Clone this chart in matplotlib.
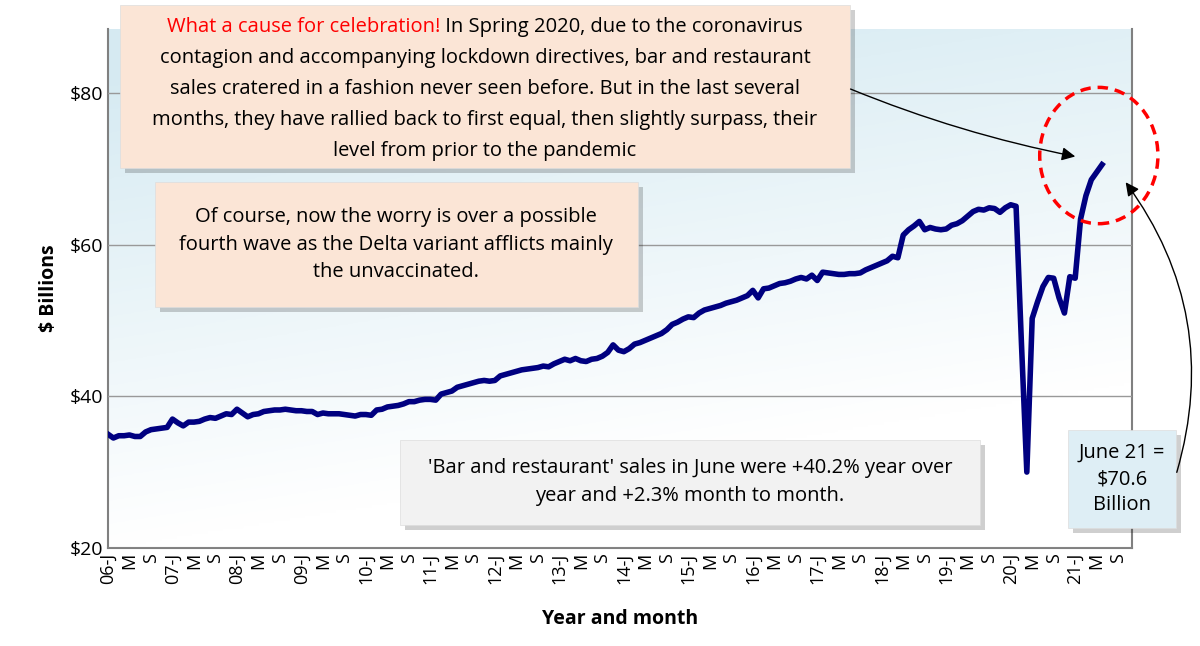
import matplotlib
matplotlib.use("Agg")
import matplotlib.pyplot as plt
import numpy as np
from matplotlib.patches import Ellipse, FancyBboxPatch

plt.rcParams["font.family"] = "Open Sans"

sales = [
 35.0, 34.5, 34.8, 34.8, 34.9, 34.7, 34.7, 35.3, 35.6, 35.7, 35.8, 35.9,
 37.0, 36.5, 36.1, 36.6, 36.6, 36.7, 37.0, 37.2, 37.1, 37.4, 37.7, 37.6,
 38.3, 37.8, 37.3, 37.6, 37.7, 38.0, 38.1, 38.2, 38.2, 38.3, 38.2, 38.1,
 38.1, 38.0, 38.0, 37.6, 37.8, 37.7, 37.7, 37.7, 37.6, 37.5, 37.4, 37.6,
 37.6, 37.5, 38.2, 38.3, 38.6, 38.7, 38.8, 39.0, 39.3, 39.3, 39.5, 39.6,
 39.6, 39.5, 40.3, 40.5, 40.7, 41.2, 41.4, 41.6, 41.8, 42.0, 42.1, 42.0,
 42.1, 42.7, 42.9, 43.1, 43.3, 43.5, 43.6, 43.7, 43.8, 44.0, 43.9, 44.3,
 44.6, 44.9, 44.7, 45.0, 44.7, 44.6, 44.9, 45.0, 45.3, 45.8, 46.8, 46.1,
 45.9, 46.3, 46.9, 47.1, 47.4, 47.7, 48.0, 48.3, 48.8, 49.5, 49.8, 50.2,
 50.5, 50.4, 51.0, 51.4, 51.6, 51.8, 52.0, 52.3, 52.5, 52.7, 53.0, 53.3,
 54.0, 53.0, 54.2, 54.3, 54.6, 54.9, 55.0, 55.2, 55.5, 55.7, 55.5, 56.0,
 55.3, 56.4, 56.3, 56.2, 56.1, 56.1, 56.2, 56.2, 56.3, 56.7, 57.0, 57.3,
 57.6, 57.9, 58.5, 58.3, 61.3, 62.0, 62.5, 63.1, 62.0, 62.3, 62.1, 62.0,
 62.1, 62.6, 62.8, 63.2, 63.8, 64.4, 64.7, 64.6, 64.9, 64.8, 64.3, 64.9,
 65.3, 65.1, 47.0, 30.0, 50.3, 52.5, 54.5, 55.7, 55.6, 53.0, 51.0, 55.8,
 55.6, 63.4, 66.5, 68.6, 69.6, 70.6,
]
start_year = 6
months = ["J", "M", "S"]
y_ticks = [20, 40, 60, 80]
y_tick_labels = ["$20", "$40", "$60", "$80"]

fig = plt.figure(figsize=(12, 6.46), dpi=100)
ax = fig.add_axes([0.09, 0.152, 0.853, 0.803])
x = np.arange(len(sales))
xmax = 190.5
ymin, ymax = 20, 88.5

# gradient background
gx, gy = np.meshgrid(np.linspace(0, 1, 200), np.linspace(1, 0, 200))
t = np.clip(gy * 1.1 - gx * 0.35, 0, 1)
c0 = np.array([0.84, 0.92, 0.95]); c1 = np.array([1, 1, 1])
img = c1 + (c0 - c1) * t[..., None]
ax.imshow(img, extent=[0, xmax, ymin, ymax], aspect="auto", zorder=0)

ax.plot(x, sales, color="#000080", lw=4, zorder=3, solid_joinstyle="round")
ax.set_xlim(0, xmax); ax.set_ylim(ymin, ymax)
ax.set_yticks(y_ticks); ax.set_yticklabels(y_tick_labels, fontsize=14)
ax.yaxis.grid(True, color="#999999", lw=1)
ax.set_axisbelow(False)
pos = list(range(0, 190, 4))
labs = []
for p in pos:
    m = months[(p % 12) // 4]
    labs.append(f"{start_year + p // 12:02d}-J" if m == "J" else m)
ax.set_xticks(pos); ax.set_xticklabels(labs, rotation=90, fontsize=13)
ax.tick_params(length=0)
for s in ["left", "bottom", "right"]:
    ax.spines[s].set_color("#808080"); ax.spines[s].set_linewidth(1.5)
ax.spines["top"].set_visible(False)
ax.set_ylabel("$ Billions", fontsize=14, fontweight="bold", labelpad=8)
ax.set_xlabel("Year and month", fontsize=14, fontweight="bold", labelpad=18)

ax.add_patch(Ellipse((184.4, 71.8), 22, 18, fill=False, ec="#FF0000", lw=2.5, ls=(0, (3, 2)), zorder=4, clip_on=False))

def box(x0, y0, x1, y1, fc):
    W, H = 1200, 646
    sh = FancyBboxPatch((x0 / W + 0.004, 1 - y1 / H - 0.007), (x1 - x0) / W, (y1 - y0) / H,
                        boxstyle="square,pad=0", transform=fig.transFigure, fc="#00000030", ec="none", zorder=5)
    b = FancyBboxPatch((x0 / W, 1 - y1 / H), (x1 - x0) / W, (y1 - y0) / H,
                       boxstyle="square,pad=0", transform=fig.transFigure, fc=fc, ec="#dddddd", lw=0.5, zorder=6)
    fig.patches.extend([sh, b])

box(120, 5, 850, 168, "#FBE5D6")
box(155, 182, 638, 307, "#FBE5D6")
box(400, 440, 980, 525, "#F2F2F2")
box(1068, 430, 1176, 528, "#DEEEF5")

fs = 14.5
kw = dict(fontsize=fs, ha="center", va="center", transform=fig.transFigure, zorder=7)
lines1 = ["contagion and accompanying lockdown directives, bar and restaurant",
          "sales cratered in a fashion never seen before. But in the last several",
          "months, they have rallied back to first equal, then slightly surpass, their",
          "level from prior to the pandemic"]
cx = 485 / 1200
red = "What a cause for celebration!"
rest = " In Spring 2020, due to the coronavirus"
fig.canvas.draw()
r = fig.canvas.get_renderer()
tr = fig.text(0, 0, red, fontsize=fs, color="#FF0000")
tb = fig.text(0, 0, rest, fontsize=fs)
wr = tr.get_window_extent(r).width / 1200; wb = tb.get_window_extent(r).width / 1200
x0 = cx - (wr + wb) / 2
yl = 1 - 27 / 646
tr.set_position((x0, yl)); tr.set_va("center"); tr.set_zorder(7)
tb.set_position((x0 + wr, yl)); tb.set_va("center"); tb.set_zorder(7)
for i, l in enumerate(lines1):
    fig.text(cx, 1 - (27 + 31 * (i + 1)) / 646, l, **kw)
fig.text(396 / 1200, 1 - 245 / 646, "Of course, now the worry is over a possible\nfourth wave as the Delta variant afflicts mainly\nthe unvaccinated.", linespacing=1.5, **kw)
fig.text(690 / 1200, 1 - 482 / 646, "'Bar and restaurant' sales in June were +40.2% year over\nyear and +2.3% month to month.", linespacing=1.5, **kw)
fig.text(1122 / 1200, 1 - 479 / 646, "June 21 =\n$70.6\nBillion", linespacing=1.4, **kw)

fig.patches.append(matplotlib.patches.FancyArrowPatch((848 / 1200, 1 - 88 / 646), (1078 / 1200, 1 - 157 / 646),
    transform=fig.transFigure, connectionstyle="arc3,rad=0.05", arrowstyle="-|>,head_length=8,head_width=4",
    color="black", lw=1, zorder=8))
fig.patches.append(matplotlib.patches.FancyArrowPatch((1176 / 1200, 1 - 475 / 646), (1124 / 1200, 1 - 180 / 646),
    transform=fig.transFigure, connectionstyle="arc3,rad=0.25", arrowstyle="-|>,head_length=8,head_width=4",
    color="black", lw=1, zorder=8))

fig.savefig("out.png", dpi=100)
